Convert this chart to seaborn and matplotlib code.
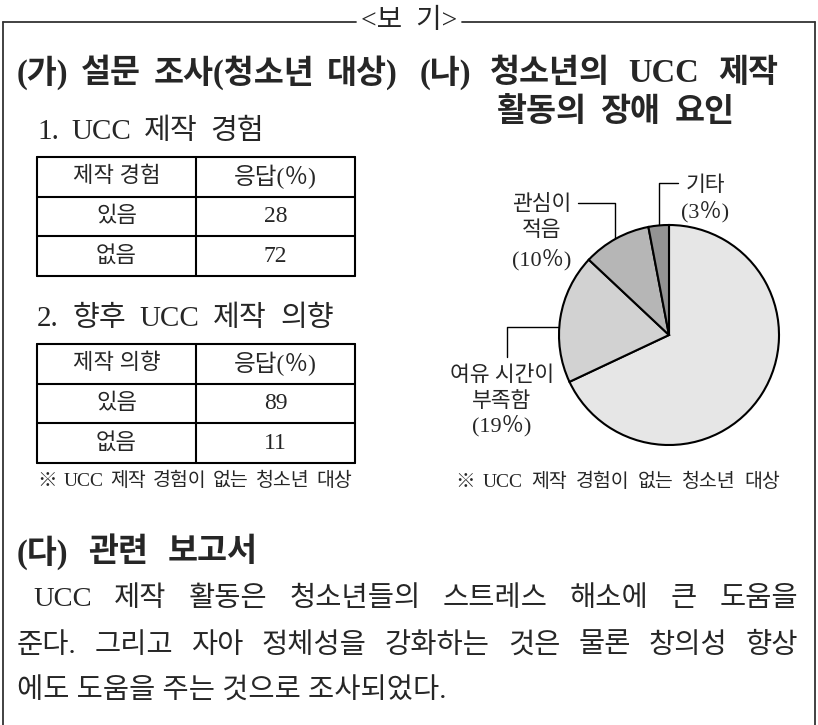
import matplotlib
matplotlib.use("Agg")
import matplotlib.pyplot as plt
import seaborn as sns

# ---- data ----
title_top = "<보  기>"
title_ga = "(가) 설문 조사(청소년 대상)"
title_na = ["(나) 청소년의 UCC 제작", "활동의 장애 요인"]
title_da = "(다) 관련 보고서"

table1_title = "1. UCC 제작 경험"
table1_header = ["제작 경험", "응답(％)"]
table1_rows = ["있음", "없음"]
table1_values = [28, 72]

table2_title = "2. 향후 UCC 제작 의향"
table2_header = ["제작 의향", "응답(％)"]
table2_rows = ["있음", "없음"]
table2_values = [89, 11]

note_text = "※ UCC 제작 경험이 없는 청소년 대상"

pie_labels = ["제작 기술을\n모름", "여유 시간이\n부족함", "관심이\n적음", "기타"]
pie_values = [68, 19, 10, 3]
pie_colors = ["#e6e6e6", "#d2d2d2", "#b6b6b6", "#939393"]

report_lines = [
    "UCC 제작 활동은 청소년들의 스트레스 해소에 큰 도움을",
    "준다. 그리고 자아 정체성을 강화하는 것은 물론 창의성 향상",
    "에도 도움을 주는 것으로 조사되었다.",
]

sns.set_theme(style="white")
plt.rcParams["font.family"] = ["Liberation Serif", "Noto Sans CJK KR"]

W, H = 818, 725
fig = plt.figure(figsize=(W / 100, H / 100), dpi=100)
bg = fig.add_axes([0, 0, 1, 1])
bg.set_xlim(0, W)
bg.set_ylim(H, 0)
bg.axis("off")
renderer = fig.canvas.get_renderer()


def justify(line, x0, x1, y, size, **kw):
    # spread the words of one line evenly between x0 and x1
    words = line.split(" ")
    arts = [bg.text(0, y, w, ha="left", va="center", fontsize=size, **kw)
            for w in words]
    inv = bg.transData.inverted()
    widths = []
    for a in arts:
        bb = a.get_window_extent(renderer)
        widths.append(inv.transform((bb.x1, bb.y0))[0] - inv.transform((bb.x0, bb.y0))[0])
    gap = (x1 - x0 - sum(widths)) / max(len(words) - 1, 1)
    x = x0
    for a, w in zip(arts, widths):
        a.set_x(x)
        x += w + gap


# frame of the box
lc = "#333333"
bg.plot([3, 356], [22, 22], color=lc, lw=1.3)
bg.plot([462, 815], [22, 22], color=lc, lw=1.3)
bg.plot([3, 3], [22, H], color=lc, lw=1.3)
bg.plot([815, 815], [22, H], color=lc, lw=1.3)
bg.text(409, 21, title_top, ha="center", va="center", fontsize=20)

# section titles
justify(title_ga, 17, 398, 73, 23.5, fontweight="bold")
justify(title_na[0], 420, 778, 73, 23.5, fontweight="bold")
justify(title_na[1], 496, 735, 112, 23.5, fontweight="bold")


def draw_table(top, title, header, rows, values, title_end):
    x0, xm, x1 = 37, 196, 355
    ys = [top, top + 40, top + 79, top + 119]
    justify(title, x0, title_end, top - 25, 21)
    for y in ys:
        bg.plot([x0, x1], [y, y], color="black", lw=1.5)
    for x in (x0, xm, x1):
        bg.plot([x, x], [ys[0], ys[-1]], color="black", lw=1.5)
    cells = [header] + [[r, str(v)] for r, v in zip(rows, values)]
    for i, (a, b) in enumerate(cells):
        yc = (ys[i] + ys[i + 1]) / 2
        bg.text((x0 + xm) / 2, yc, a, ha="center", va="center", fontsize=16)
        bg.text((xm + x1) / 2, yc, b, ha="center", va="center", fontsize=17)


draw_table(157, table1_title, table1_header, table1_rows, table1_values, 264)
draw_table(344, table2_title, table2_header, table2_rows, table2_values, 334)
justify(note_text, 37, 352, 481, 14)
justify(note_text, 455, 780, 482, 14)

# pie chart
cx, cy, r = 669, 335, 110
pad = 1.25
pax = fig.add_axes([(cx - r * pad) / W, (H - cy - r * pad) / H,
                    2 * r * pad / W, 2 * r * pad / H])
wedges, _ = pax.pie(pie_values, colors=pie_colors, startangle=90,
                    counterclock=False,
                    wedgeprops=dict(edgecolor="black", linewidth=1.5))
pax.set_xlim(-pad, pad)
pax.set_ylim(-pad, pad)
pax.set_aspect("equal")
pax.axis("off")

# pie labels and leader lines
lab_pos = [(710, 373), (502, 389), (542, 218), (705, 186)]
pct_y = [413, 426, 260, 212]
for lab, v, (lx, ly), py in zip(pie_labels, pie_values, lab_pos, pct_y):
    bg.text(lx, ly, lab, ha="center", va="center", fontsize=15.5, linespacing=1.4)
    bg.text(lx, py, f"({v}％)", ha="center", va="center", fontsize=16)
bg.plot([577, 507, 507], [327, 327, 357], color="black", lw=1)
bg.plot([578, 615, 615], [203, 203, 253], color="black", lw=1)
bg.plot([678, 659, 659], [183, 183, 225], color="black", lw=1)

# report
justify(title_da, 17, 258, 553, 23.5, fontweight="bold")
justify(report_lines[0], 33, 798, 599, 20.5)
justify(report_lines[1], 17, 798, 646, 20.5)
bg.text(17, 692, report_lines[2], ha="left", va="center", fontsize=20.5)

fig.savefig("out.png", dpi=100, facecolor="white")
